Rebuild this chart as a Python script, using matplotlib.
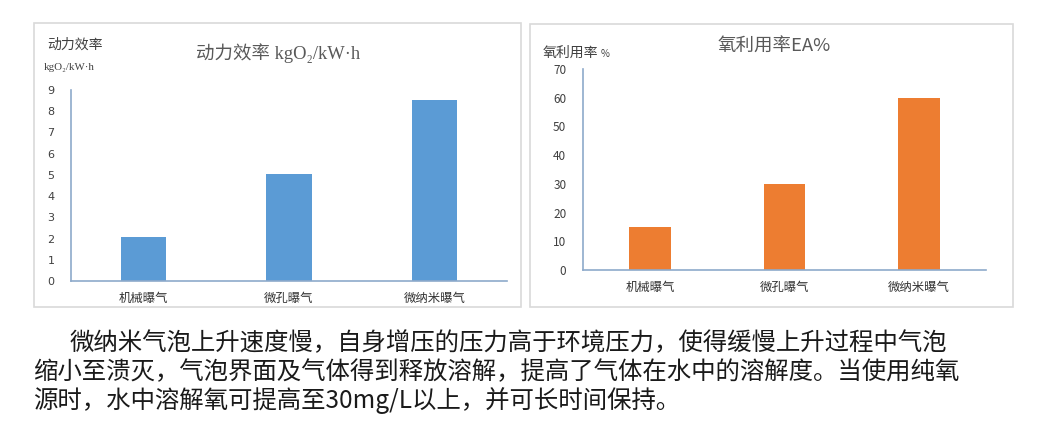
import matplotlib
matplotlib.use("Agg")
import matplotlib.pyplot as plt
from matplotlib.patches import Rectangle

plt.rcParams['font.family'] = ['Noto Sans CJK SC', 'DejaVu Sans']

categories = ["机械曝气", "微孔曝气", "微纳米曝气"]
power_eff = [2.05, 5.05, 8.55]
oxygen_util = [15, 30, 60]
left_ticks = list(range(0, 10))
right_ticks = list(range(0, 80, 10))
body_lines = [
    "微纳米气泡上升速度慢，自身增压的压力高于环境压力，使得缓慢上升过程中气泡",
    "缩小至溃灭，气泡界面及气体得到释放溶解，提高了气体在水中的溶解度。当使用纯氧",
    "源时，水中溶解氧可提高至30mg/L以上，并可长时间保持。",
]

W, H = 1052, 434
fig = plt.figure(figsize=(W / 100, H / 100), dpi=100)
fig.patch.set_facecolor("white")


def rect(x0, y0, x1, y1):
    return [x0 / W, 1 - y1 / H, (x1 - x0) / W, (y1 - y0) / H]


def fx(x):
    return x / W


def fy(y):
    return 1 - y / H


axis_col = "#8eaacb"
txt_col = "#595959"

# panel borders
for (x0, y0, x1, y1) in [(34, 23, 521, 307), (530, 24, 1013, 307)]:
    fig.patches.append(Rectangle((x0 / W, 1 - y1 / H), (x1 - x0) / W, (y1 - y0) / H,
                                 transform=fig.transFigure, fill=False,
                                 edgecolor="#d9d9d9", lw=1.2))


def style_ax(ax, ticks, fs):
    for s in ["top", "right"]:
        ax.spines[s].set_visible(False)
    for s in ["left", "bottom"]:
        ax.spines[s].set_color(axis_col)
        ax.spines[s].set_linewidth(1.2)
    ax.set_yticks(ticks)
    ax.tick_params(axis="y", length=0, pad=12, labelsize=fs, labelcolor="#404040")
    ax.tick_params(axis="x", length=0, pad=8, labelsize=8.9, labelcolor="#333333")
    ax.set_xlim(-0.5, 2.5)


# left chart
ax1 = fig.add_axes(rect(71, 90, 507, 281))
x = range(len(categories))
ax1.bar(x, power_eff, width=0.31, color="#5b9bd5")
ax1.set_ylim(0, 9)
style_ax(ax1, left_ticks, 8)
ax1.set_xticks(list(x))
ax1.set_xticklabels(categories)
for lbl in ax1.get_yticklabels():
    lbl.set_fontfamily(["DejaVu Sans"])

fig.text(fx(196), fy(53), "动力效率 kgO₂/kW·h", fontsize=13.3, color=txt_col,
         family=["Liberation Serif", "Noto Sans CJK SC"], ha="left", va="center")
fig.text(fx(47), fy(45), "动力效率", fontsize=10, color="#404040", ha="left", va="center")
fig.text(fx(44), fy(67), "kgO₂/kW·h", fontsize=7.8, color="#404040",
         family=["Liberation Serif", "DejaVu Serif"], ha="left", va="center")

# right chart
ax2 = fig.add_axes(rect(583, 69, 986, 270))
ax2.bar(x, oxygen_util, width=0.31, color="#ed7d31")
ax2.set_ylim(0, 70)
style_ax(ax2, right_ticks, 8.5)
ax2.set_xticks(list(x))
ax2.set_xticklabels(categories)

fig.text(fx(718), fy(47), "氧利用率EA%", fontsize=13.3, color=txt_col,
         family=["Noto Sans CJK SC", "DejaVu Serif"], ha="left", va="center")
fig.text(fx(543), fy(53), "氧利用率", fontsize=10, color="#404040", ha="left", va="center")
fig.text(fx(601), fy(54), "%", fontsize=7, color="#404040", ha="left", va="center")

# body text
starts = [70, 33, 33]
ys = [343, 372, 401]
for line, sx, yy in zip(body_lines, starts, ys):
    fig.text(fx(sx), fy(yy), line, fontsize=17.6, color="#1a1a1a",
             ha="left", va="center")

fig.savefig("out.png", dpi=100, facecolor="white")
